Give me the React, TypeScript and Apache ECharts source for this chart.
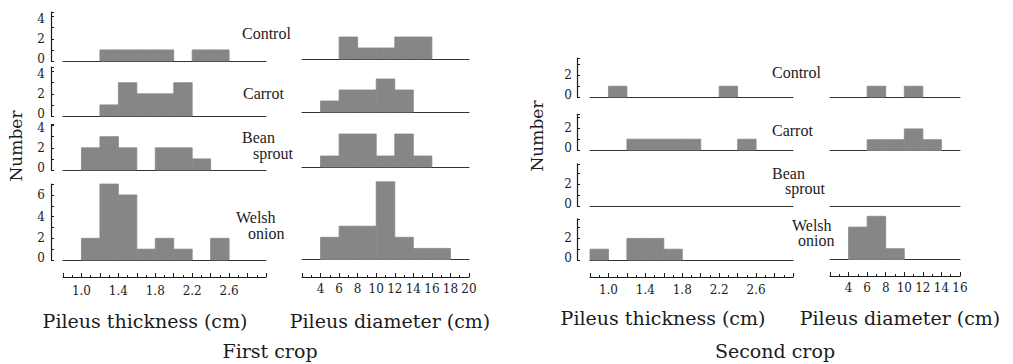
import React, { useEffect, useRef } from "react";
import * as echarts from "echarts";

// ---------- DATA ----------
const thicknessBinStarts = [0.8, 1.0, 1.2, 1.4, 1.6, 1.8, 2.0, 2.2, 2.4, 2.6, 2.8];
const thicknessBinWidth = 0.2;
const diameterBinStarts1 = [2, 4, 6, 8, 10, 12, 14, 16, 18];
const diameterBinStarts2 = [2, 4, 6, 8, 10, 12, 14];
const diameterBinWidth = 2;

const treatmentLines = [["Control"], ["Carrot"], ["Bean", "sprout"], ["Welsh", "onion"]];

// First crop – pileus thickness (counts per 0.2 cm bin starting at 0.8)
const t1Control = [0, 0, 1, 1, 1, 1, 0, 1, 1, 0, 0];
const t1Carrot = [0, 0, 1, 3, 2, 2, 3, 0, 0, 0, 0];
const t1Bean = [0, 2, 3, 2, 0, 2, 2, 1, 0, 0, 0];
const t1Welsh = [0, 2, 7, 6, 1, 2, 1, 0, 2, 0, 0];
// First crop – pileus diameter (counts per 2 cm bin starting at 2)
const d1Control = [0, 0, 2, 1, 1, 2, 2, 0, 0];
const d1Carrot = [0, 1, 2, 2, 3, 2, 0, 0, 0];
const d1Bean = [0, 1, 3, 3, 1, 3, 1, 0, 0];
const d1Welsh = [0, 2, 3, 3, 7, 2, 1, 1, 0];
// Second crop – pileus thickness
const t2Control = [0, 1, 0, 0, 0, 0, 0, 1, 0, 0, 0];
const t2Carrot = [0, 0, 1, 1, 1, 1, 0, 0, 1, 0, 0];
const t2Bean = [0, 0, 0, 0, 0, 0, 0, 0, 0, 0, 0];
const t2Welsh = [1, 0, 2, 2, 1, 0, 0, 0, 0, 0, 0];
// Second crop – pileus diameter
const d2Control = [0, 0, 1, 0, 1, 0, 0];
const d2Carrot = [0, 0, 1, 1, 2, 1, 0];
const d2Bean = [0, 0, 0, 0, 0, 0, 0];
const d2Welsh = [0, 3, 4, 1, 0, 0, 0];

// Tick labels
const thicknessTickLabels = ["1.0", "1.4", "1.8", "2.2", "2.6"];
const diameterTickLabels1 = ["4", "6", "8", "10", "12", "14", "16", "18", "20"];
const diameterTickLabels2 = ["4", "6", "8", "10", "12", "14", "16"];
const yLabelsFirst = ["0", "2", "4"];
const yLabelsFirstWelsh = ["0", "2", "4", "6"];
const yLabelsSecond = ["0", "2"];

const axisTitleThickness = "Pileus thickness (cm)";
const axisTitleDiameter = "Pileus diameter (cm)";
const yTitle = "Number";
const cropTitles = ["First crop", "Second crop"];

// ---------- LAYOUT ----------
const SERIF = "DejaVu Serif";
const LABEL_FONT = "Liberation Serif";
const INK = "#1c1c1c";
const BAR = "#868686";

type Col = {
  left: number; width: number; min: number; max: number; interval: number;
  bins: number[]; binW: number; counts: number[][];
  baselines: number[]; ymax: number[]; unit: number[];
  showY: boolean; yOffset: number; yMargin: number; yLabels: string[][];
  tickAxisY: number; tickLabels: string[]; fmt: (v: number) => string; tickMargin: number;
};

const columns: Col[] = [
  {
    left: 63, width: 203, min: 0.8, max: 3.0, interval: 0.2,
    bins: thicknessBinStarts, binW: thicknessBinWidth,
    counts: [t1Control, t1Carrot, t1Bean, t1Welsh],
    baselines: [61, 116, 170, 260], ymax: [4.4, 4.4, 4.1, 7.0], unit: [11.1, 11.1, 11.1, 10.85],
    showY: true, yOffset: 12, yMargin: 6, yLabels: [yLabelsFirst, yLabelsFirst, yLabelsFirst, yLabelsFirstWelsh],
    tickAxisY: 277, tickLabels: thicknessTickLabels, fmt: (v) => v.toFixed(1), tickMargin: 8,
  },
  {
    left: 302, width: 167, min: 2, max: 20, interval: 2,
    bins: diameterBinStarts1, binW: diameterBinWidth,
    counts: [d1Control, d1Carrot, d1Bean, d1Welsh],
    baselines: [59, 112, 167, 259.5], ymax: [4.4, 4.4, 4.1, 7.0], unit: [11, 11, 11, 11.1],
    showY: false, yOffset: 0, yMargin: 6, yLabels: [[], [], [], []],
    tickAxisY: 277, tickLabels: diameterTickLabels1, fmt: (v) => String(Math.round(v)), tickMargin: 6,
  },
  {
    left: 590, width: 203, min: 0.8, max: 3.0, interval: 0.2,
    bins: thicknessBinStarts, binW: thicknessBinWidth,
    counts: [t2Control, t2Carrot, t2Bean, t2Welsh],
    baselines: [97, 150, 206, 260], ymax: [3.6, 3.3, 3.9, 3.8], unit: [10.8, 10.8, 10.8, 10.8],
    showY: true, yOffset: 13, yMargin: 5, yLabels: [yLabelsSecond, yLabelsSecond, yLabelsSecond, yLabelsSecond],
    tickAxisY: 277, tickLabels: thicknessTickLabels, fmt: (v) => v.toFixed(1), tickMargin: 7,
  },
  {
    left: 830, width: 130, min: 2, max: 16, interval: 2,
    bins: diameterBinStarts2, binW: diameterBinWidth,
    counts: [d2Control, d2Carrot, d2Bean, d2Welsh],
    baselines: [97, 150.5, 206, 259.5], ymax: [3.6, 3.3, 3.9, 3.8], unit: [10.8, 10.8, 10.8, 10.8],
    showY: false, yOffset: 0, yMargin: 5, yLabels: [[], [], [], []],
    tickAxisY: 276, tickLabels: diameterTickLabels2, fmt: (v) => String(Math.round(v)), tickMargin: 6,
  },
];

// label positions [crop][treatment][line] -> [x, y]
const labelPos = [
  [[[242, 33]], [[243, 93]], [[242, 137], [253, 153]], [[236, 217], [248, 233]]],
  [[[772, 72]], [[772, 130]], [[772, 173], [785, 188]], [[792, 225], [798, 240]]],
];

const yRich = {
  up: { fontFamily: SERIF, fontSize: 12, color: INK, padding: [0, 0, 4, 0] },
  dn: { fontFamily: SERIF, fontSize: 12, color: INK, padding: [4, 0, 0, 0] },
  n: { fontFamily: SERIF, fontSize: 12, color: INK },
};

function buildOption() {
  const grid: any[] = [];
  const xAxis: any[] = [];
  const yAxis: any[] = [];
  const series: any[] = [];

  columns.forEach((c) => {
    c.counts.forEach((counts, r) => {
      const h = c.ymax[r] * c.unit[r];
      const gi = grid.length;
      grid.push({ left: c.left, top: c.baselines[r] - h, width: c.width, height: h, containLabel: false });
      xAxis.push({
        gridIndex: gi, type: "value", min: c.min, max: c.max, interval: c.interval,
        axisLine: { show: true, onZero: true, lineStyle: { color: "#333", width: 1 } },
        axisTick: { show: false }, axisLabel: { show: false }, splitLine: { show: false },
      });
      const labs = c.yLabels[r];
      const topLab = labs[labs.length - 1];
      yAxis.push({
        gridIndex: gi, type: "value", min: 0, max: c.ymax[r], interval: 1, show: c.showY,
        offset: c.yOffset,
        axisLine: { show: true, lineStyle: { color: INK, width: 1.2 } },
        axisTick: { show: true, inside: true, length: 3, lineStyle: { color: INK } },
        axisLabel: {
          show: true, margin: c.yMargin, fontFamily: SERIF, fontSize: 12, color: INK,
          rich: yRich,
          formatter: (v: number) => {
            const s = String(v);
            if (labs.indexOf(s) < 0) return "";
            if (s === "0") return "{up|0}";
            if (s === topLab && s === "4") return "{dn|" + s + "}";
            return "{n|" + s + "}";
          },
        },
        splitLine: { show: false },
      });
      series.push({
        type: "custom", xAxisIndex: gi, yAxisIndex: gi,
        encode: { x: [0, 1], y: 2 },
        data: c.bins.map((s, i) => [s, s + c.binW, counts[i]]),
        renderItem: (params: any, api: any) => {
          const v = api.value(2);
          if (!v) return { type: "group", children: [] };
          const p0 = api.coord([api.value(0), v]);
          const p1 = api.coord([api.value(1), 0]);
          return {
            type: "rect",
            shape: { x: p0[0], y: p0[1], width: p1[0] - p0[0], height: p1[1] - p0[1] },
            style: { fill: BAR, stroke: BAR, lineWidth: 0.8 },
          };
        },
      });
    });

    // tick axis
    const gi = grid.length;
    grid.push({ left: c.left, top: c.tickAxisY - 10, width: c.width, height: 10 });
    xAxis.push({
      gridIndex: gi, type: "value", min: c.min, max: c.max, interval: c.interval, position: "bottom",
      axisLine: { show: true, onZero: false, lineStyle: { color: INK, width: 1.2 } },
      axisTick: { show: true, inside: true, length: 4, lineStyle: { color: INK } },
      minorTick: { show: true, splitNumber: 2, length: 2, lineStyle: { color: INK } },
      axisLabel: {
        show: true, margin: c.tickMargin, fontFamily: SERIF, fontSize: 12, color: INK,
        formatter: (v: number) => {
          const s = c.fmt(v);
          return c.tickLabels.indexOf(s) >= 0 ? s : "";
        },
      },
      splitLine: { show: false },
    });
    yAxis.push({ gridIndex: gi, type: "value", min: 0, max: 1, show: false });
  });

  const graphic: any[] = [];
  labelPos.forEach((crop) => {
    crop.forEach((lines, t) => {
      lines.forEach((p, li) => {
        graphic.push({
          type: "text", x: p[0], y: p[1],
          style: { text: treatmentLines[t][li], fontFamily: LABEL_FONT, fontSize: 16, fill: INK, textVerticalAlign: "middle" },
        });
      });
    });
  });
  const title = (text: string, x: number, y: number, size = 19) => ({
    type: "text", x, y,
    style: { text, fontFamily: SERIF, fontSize: size, fill: INK, textAlign: "center", textVerticalAlign: "middle" },
  });
  graphic.push(title(axisTitleThickness, 145, 321));
  graphic.push(title(axisTitleDiameter, 390, 321));
  graphic.push(title(axisTitleThickness, 663, 318));
  graphic.push(title(axisTitleDiameter, 900, 318));
  graphic.push(title(cropTitles[0], 270, 351));
  graphic.push(title(cropTitles[1], 775, 351));
  graphic.push({ ...title(yTitle, 16, 146, 17), rotation: Math.PI / 2 });
  graphic.push({ ...title(yTitle, 537, 136, 17), rotation: Math.PI / 2 });

  return { animation: false, backgroundColor: "#ffffff", grid, xAxis, yAxis, series, graphic };
}

export default function App() {
  const ref = useRef<HTMLDivElement>(null);
  useEffect(() => {
    if (!ref.current) return;
    const chart = echarts.init(ref.current, undefined, { renderer: "svg" });
    chart.setOption(buildOption() as any);
    return () => chart.dispose();
  }, []);
  return (
    <div
      ref={ref}
      style={{ position: "absolute", left: 0, top: 0, width: 1013, height: 364, background: "#fff" }}
    />
  );
}
